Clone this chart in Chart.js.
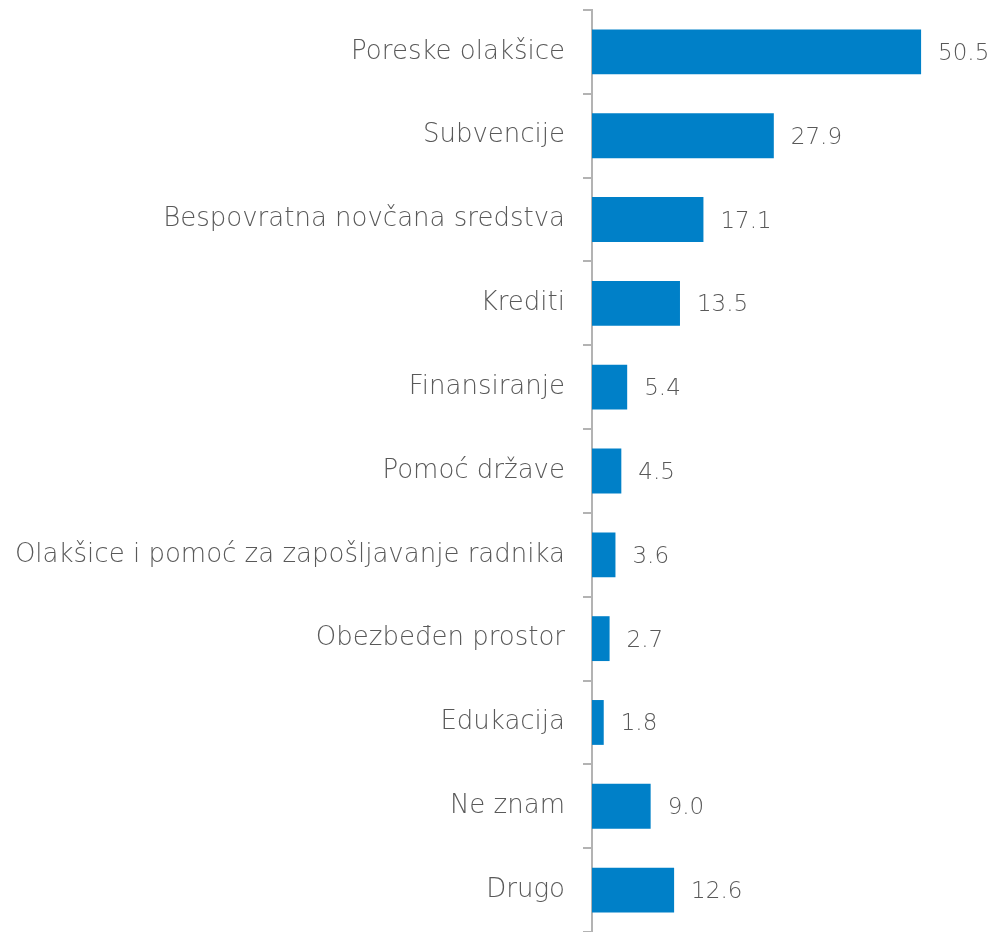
<!DOCTYPE html>
<html>
<head>
<meta charset="utf-8">
<script src="https://cdn.jsdelivr.net/npm/chart.js@4"></script>
<style>
  html, body { margin: 0; padding: 0; background: #ffffff; }
  #wrap { width: 995px; height: 932px; position: relative; }
</style>
</head>
<body>
<div id="wrap"><canvas id="c"></canvas></div>
<script>
const categories = [
  "Poreske olakšice",
  "Subvencije",
  "Bespovratna novčana sredstva",
  "Krediti",
  "Finansiranje",
  "Pomoć države",
  "Olakšice i pomoć za zapošljavanje radnika",
  "Obezbeđen prostor",
  "Edukacija",
  "Ne znam",
  "Drugo"
];
const values = [50.5, 27.9, 17.1, 13.5, 5.4, 4.5, 3.6, 2.7, 1.8, 9.0, 12.6];

const FONT = "'DejaVu Sans', sans-serif";
const TEXT = "#595959";

const valueLabels = {
  id: 'valueLabels',
  afterDatasetsDraw(chart) {
    const ctx = chart.ctx;
    const meta = chart.getDatasetMeta(0);
    ctx.save();
    ctx.font = "200 23px " + FONT;
    ctx.fillStyle = TEXT;
    ctx.textAlign = 'left';
    ctx.textBaseline = 'middle';
    meta.data.forEach((bar, i) => {
      ctx.fillText(values[i].toFixed(1), bar.x + 17, bar.y + 2);
    });
    ctx.restore();
  }
};

new Chart(document.getElementById('c'), {
  type: 'bar',
  data: {
    labels: categories,
    datasets: [{
      data: values,
      backgroundColor: '#0080C8',
      borderWidth: 0,
      categoryPercentage: 1,
      barPercentage: 0.535
    }]
  },
  options: {
    indexAxis: 'y',
    responsive: true,
    maintainAspectRatio: false,
    animation: false,
    layout: { padding: { top: 10, right: 12, bottom: 0, left: 0 } },
    plugins: { legend: { display: false }, tooltip: { enabled: false } },
    scales: {
      x: {
        display: false,
        min: 0,
        max: 60
      },
      y: {
        afterFit(scale) {
          scale.width = 592;
          scale.paddingTop = 0;
          scale.paddingBottom = 0;
        },
        border: { display: true, color: '#B3B3B3', width: 2 },
        grid: {
          display: true,
          offset: true,
          drawOnChartArea: false,
          drawTicks: true,
          tickLength: 9,
          color: '#B3B3B3',
          lineWidth: 2
        },
        ticks: {
          color: TEXT,
          font: { family: FONT, size: 26, weight: 200 },
          padding: 18
        }
      }
    }
  },
  plugins: [valueLabels]
});
</script>
</body>
</html>
